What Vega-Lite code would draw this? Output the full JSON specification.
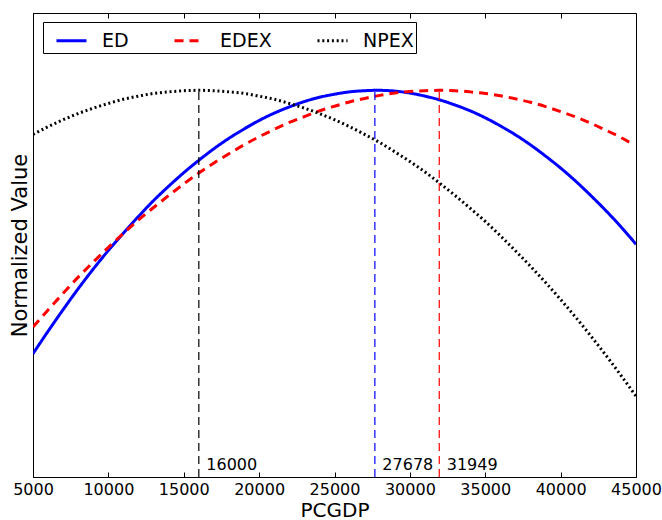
{
  "$schema": "https://vega.github.io/schema/vega-lite/v6.json",
  "width": 603,
  "height": 464,
  "autosize": {"type": "none"},
  "padding": {"left": 33, "top": 13, "right": 26, "bottom": 43},
  "background": "white",
  "config": {
    "font": "DejaVu Sans",
    "view": {"stroke": "black", "strokeWidth": 1},
    "axis": {"domainColor": "black", "tickColor": "black", "labelColor": "black", "titleColor": "black", "titleFontWeight": "normal", "grid": false}
  },
  "datasets": {
    "curves": [
      {"series": "ED", "pcgdp": 5000, "value": 0.319},
      {"series": "ED", "pcgdp": 6000, "value": 0.377},
      {"series": "ED", "pcgdp": 7000, "value": 0.433},
      {"series": "ED", "pcgdp": 8000, "value": 0.487},
      {"series": "ED", "pcgdp": 9000, "value": 0.538},
      {"series": "ED", "pcgdp": 10000, "value": 0.586},
      {"series": "ED", "pcgdp": 11000, "value": 0.631},
      {"series": "ED", "pcgdp": 12000, "value": 0.674},
      {"series": "ED", "pcgdp": 13000, "value": 0.715},
      {"series": "ED", "pcgdp": 14000, "value": 0.752},
      {"series": "ED", "pcgdp": 15000, "value": 0.787},
      {"series": "ED", "pcgdp": 16000, "value": 0.819},
      {"series": "ED", "pcgdp": 17000, "value": 0.849},
      {"series": "ED", "pcgdp": 18000, "value": 0.876},
      {"series": "ED", "pcgdp": 19000, "value": 0.900},
      {"series": "ED", "pcgdp": 20000, "value": 0.922},
      {"series": "ED", "pcgdp": 21000, "value": 0.941},
      {"series": "ED", "pcgdp": 22000, "value": 0.957},
      {"series": "ED", "pcgdp": 23000, "value": 0.971},
      {"series": "ED", "pcgdp": 24000, "value": 0.982},
      {"series": "ED", "pcgdp": 25000, "value": 0.990},
      {"series": "ED", "pcgdp": 26000, "value": 0.996},
      {"series": "ED", "pcgdp": 27000, "value": 0.999},
      {"series": "ED", "pcgdp": 27678, "value": 1.000},
      {"series": "ED", "pcgdp": 28000, "value": 1.000},
      {"series": "ED", "pcgdp": 29000, "value": 0.998},
      {"series": "ED", "pcgdp": 30000, "value": 0.993},
      {"series": "ED", "pcgdp": 31000, "value": 0.985},
      {"series": "ED", "pcgdp": 32000, "value": 0.975},
      {"series": "ED", "pcgdp": 33000, "value": 0.962},
      {"series": "ED", "pcgdp": 34000, "value": 0.947},
      {"series": "ED", "pcgdp": 35000, "value": 0.929},
      {"series": "ED", "pcgdp": 36000, "value": 0.908},
      {"series": "ED", "pcgdp": 37000, "value": 0.885},
      {"series": "ED", "pcgdp": 38000, "value": 0.859},
      {"series": "ED", "pcgdp": 39000, "value": 0.830},
      {"series": "ED", "pcgdp": 40000, "value": 0.799},
      {"series": "ED", "pcgdp": 41000, "value": 0.765},
      {"series": "ED", "pcgdp": 42000, "value": 0.728},
      {"series": "ED", "pcgdp": 43000, "value": 0.689},
      {"series": "ED", "pcgdp": 44000, "value": 0.647},
      {"series": "ED", "pcgdp": 45000, "value": 0.602},
      {"series": "EDEX", "pcgdp": 5000, "value": 0.388},
      {"series": "EDEX", "pcgdp": 6000, "value": 0.432},
      {"series": "EDEX", "pcgdp": 7000, "value": 0.475},
      {"series": "EDEX", "pcgdp": 8000, "value": 0.517},
      {"series": "EDEX", "pcgdp": 9000, "value": 0.556},
      {"series": "EDEX", "pcgdp": 10000, "value": 0.594},
      {"series": "EDEX", "pcgdp": 11000, "value": 0.630},
      {"series": "EDEX", "pcgdp": 12000, "value": 0.665},
      {"series": "EDEX", "pcgdp": 13000, "value": 0.697},
      {"series": "EDEX", "pcgdp": 14000, "value": 0.728},
      {"series": "EDEX", "pcgdp": 15000, "value": 0.758},
      {"series": "EDEX", "pcgdp": 16000, "value": 0.786},
      {"series": "EDEX", "pcgdp": 17000, "value": 0.812},
      {"series": "EDEX", "pcgdp": 18000, "value": 0.836},
      {"series": "EDEX", "pcgdp": 19000, "value": 0.859},
      {"series": "EDEX", "pcgdp": 20000, "value": 0.880},
      {"series": "EDEX", "pcgdp": 21000, "value": 0.899},
      {"series": "EDEX", "pcgdp": 22000, "value": 0.917},
      {"series": "EDEX", "pcgdp": 23000, "value": 0.932},
      {"series": "EDEX", "pcgdp": 24000, "value": 0.947},
      {"series": "EDEX", "pcgdp": 25000, "value": 0.959},
      {"series": "EDEX", "pcgdp": 26000, "value": 0.970},
      {"series": "EDEX", "pcgdp": 27000, "value": 0.979},
      {"series": "EDEX", "pcgdp": 28000, "value": 0.987},
      {"series": "EDEX", "pcgdp": 29000, "value": 0.993},
      {"series": "EDEX", "pcgdp": 30000, "value": 0.997},
      {"series": "EDEX", "pcgdp": 31000, "value": 0.999},
      {"series": "EDEX", "pcgdp": 31949, "value": 1.000},
      {"series": "EDEX", "pcgdp": 32000, "value": 1.000},
      {"series": "EDEX", "pcgdp": 33000, "value": 0.999},
      {"series": "EDEX", "pcgdp": 34000, "value": 0.996},
      {"series": "EDEX", "pcgdp": 35000, "value": 0.992},
      {"series": "EDEX", "pcgdp": 36000, "value": 0.986},
      {"series": "EDEX", "pcgdp": 37000, "value": 0.978},
      {"series": "EDEX", "pcgdp": 38000, "value": 0.969},
      {"series": "EDEX", "pcgdp": 39000, "value": 0.958},
      {"series": "EDEX", "pcgdp": 40000, "value": 0.945},
      {"series": "EDEX", "pcgdp": 41000, "value": 0.931},
      {"series": "EDEX", "pcgdp": 42000, "value": 0.915},
      {"series": "EDEX", "pcgdp": 43000, "value": 0.897},
      {"series": "EDEX", "pcgdp": 44000, "value": 0.878},
      {"series": "EDEX", "pcgdp": 44600, "value": 0.865},
      {"series": "NPEX", "pcgdp": 5000, "value": 0.886},
      {"series": "NPEX", "pcgdp": 6000, "value": 0.906},
      {"series": "NPEX", "pcgdp": 7000, "value": 0.924},
      {"series": "NPEX", "pcgdp": 8000, "value": 0.940},
      {"series": "NPEX", "pcgdp": 9000, "value": 0.954},
      {"series": "NPEX", "pcgdp": 10000, "value": 0.966},
      {"series": "NPEX", "pcgdp": 11000, "value": 0.977},
      {"series": "NPEX", "pcgdp": 12000, "value": 0.985},
      {"series": "NPEX", "pcgdp": 13000, "value": 0.992},
      {"series": "NPEX", "pcgdp": 14000, "value": 0.996},
      {"series": "NPEX", "pcgdp": 15000, "value": 0.999},
      {"series": "NPEX", "pcgdp": 16000, "value": 1.000},
      {"series": "NPEX", "pcgdp": 17000, "value": 0.999},
      {"series": "NPEX", "pcgdp": 18000, "value": 0.996},
      {"series": "NPEX", "pcgdp": 19000, "value": 0.992},
      {"series": "NPEX", "pcgdp": 20000, "value": 0.985},
      {"series": "NPEX", "pcgdp": 21000, "value": 0.977},
      {"series": "NPEX", "pcgdp": 22000, "value": 0.966},
      {"series": "NPEX", "pcgdp": 23000, "value": 0.954},
      {"series": "NPEX", "pcgdp": 24000, "value": 0.940},
      {"series": "NPEX", "pcgdp": 25000, "value": 0.924},
      {"series": "NPEX", "pcgdp": 26000, "value": 0.906},
      {"series": "NPEX", "pcgdp": 27000, "value": 0.886},
      {"series": "NPEX", "pcgdp": 28000, "value": 0.865},
      {"series": "NPEX", "pcgdp": 29000, "value": 0.841},
      {"series": "NPEX", "pcgdp": 30000, "value": 0.816},
      {"series": "NPEX", "pcgdp": 31000, "value": 0.789},
      {"series": "NPEX", "pcgdp": 32000, "value": 0.759},
      {"series": "NPEX", "pcgdp": 33000, "value": 0.728},
      {"series": "NPEX", "pcgdp": 34000, "value": 0.695},
      {"series": "NPEX", "pcgdp": 35000, "value": 0.661},
      {"series": "NPEX", "pcgdp": 36000, "value": 0.624},
      {"series": "NPEX", "pcgdp": 37000, "value": 0.585},
      {"series": "NPEX", "pcgdp": 38000, "value": 0.545},
      {"series": "NPEX", "pcgdp": 39000, "value": 0.503},
      {"series": "NPEX", "pcgdp": 40000, "value": 0.459},
      {"series": "NPEX", "pcgdp": 41000, "value": 0.413},
      {"series": "NPEX", "pcgdp": 42000, "value": 0.365},
      {"series": "NPEX", "pcgdp": 43000, "value": 0.315},
      {"series": "NPEX", "pcgdp": 44000, "value": 0.263},
      {"series": "NPEX", "pcgdp": 45000, "value": 0.209}
    ],
    "optima": [
      {"series": "NPEX", "pcgdp": 16000, "label": "16000"},
      {"series": "ED", "pcgdp": 27678, "label": "27678"},
      {"series": "EDEX", "pcgdp": 31949, "label": "31949"}
    ]
  },
  "resolve": {"axis": {"x": "independent"}},
  "layer": [
    {
      "data": {"name": "curves"},
      "mark": {"type": "line", "interpolate": "monotone", "clip": true},
      "encoding": {
        "x": {
          "field": "pcgdp", "type": "quantitative",
          "scale": {"domain": [5000, 45000], "nice": false, "zero": false},
          "axis": {"orient": "bottom", "title": "PCGDP", "values": [5000, 10000, 15000, 20000, 25000, 30000, 35000, 40000, 45000], "format": "d", "labelFontSize": 16, "tickSize": -5, "labelPadding": 9, "titleFontSize": 20, "titlePadding": 3, "labelFlush": false, "labelOverlap": false}
        },
        "y": {
          "field": "value", "type": "quantitative",
          "scale": {"domain": [0, 1.2], "nice": false, "zero": false},
          "axis": {"title": "Normalized Value", "labels": false, "ticks": false, "titleFontSize": 21, "titlePadding": 3}
        },
        "color": {
          "field": "series", "type": "nominal",
          "scale": {"domain": ["ED", "EDEX", "NPEX"], "range": ["#0000ff", "#ff0000", "#000000"]},
          "legend": {"title": null, "orient": "none", "legendX": 10, "legendY": 9, "direction": "horizontal", "symbolType": "stroke", "symbolSize": 900, "labelFontSize": 19, "labelOffset": 14, "columnPadding": 34, "padding": 2, "symbolOffset": 10, "strokeColor": "black", "fillColor": "white", "cornerRadius": 0, "labelColor": "black", "labelLimit": 300}
        },
        "strokeDash": {
          "field": "series", "type": "nominal",
          "scale": {"domain": ["ED", "EDEX", "NPEX"], "range": [[1, 0], [9, 6], [2, 2.8]]}
        },
        "strokeWidth": {
          "field": "series", "type": "nominal",
          "scale": {"domain": ["ED", "EDEX", "NPEX"], "range": [3, 3, 2]}
        }
      }
    },
    {
      "data": {"name": "optima"},
      "mark": {"type": "rule", "strokeDash": [8, 5], "strokeWidth": 1.2},
      "encoding": {
        "x": {
          "field": "pcgdp", "type": "quantitative",
          "axis": {"orient": "top", "title": null, "labels": false, "domain": false, "tickSize": -5, "values": [5000, 10000, 15000, 20000, 25000, 30000, 35000, 40000, 45000]}
        },
        "y": {"datum": 0},
        "y2": {"datum": 1},
        "color": {"field": "series", "type": "nominal"}
      }
    },
    {
      "data": {"name": "optima"},
      "mark": {"type": "text", "align": "left", "baseline": "alphabetic", "dx": 7.5, "dy": -7, "fontSize": 16, "color": "black"},
      "encoding": {
        "x": {"field": "pcgdp", "type": "quantitative", "axis": null},
        "y": {"datum": 0},
        "text": {"field": "label"}
      }
    }
  ]
}
